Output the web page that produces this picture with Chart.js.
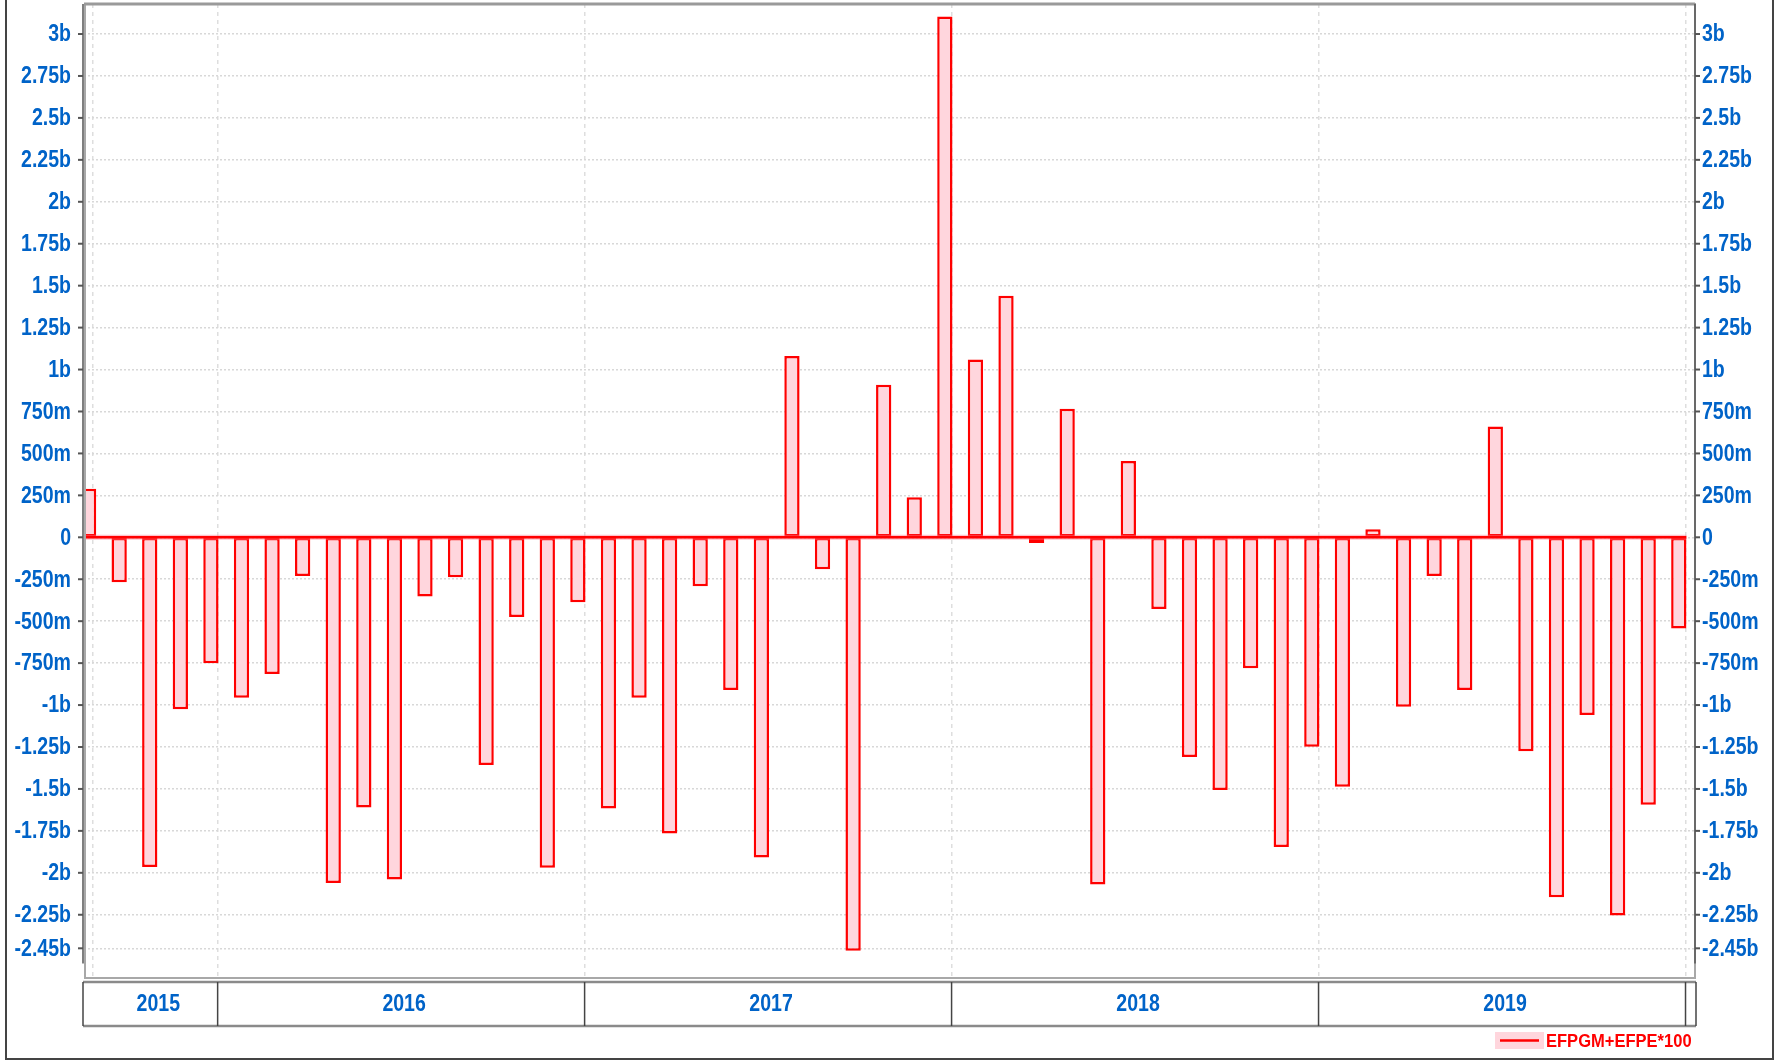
<!DOCTYPE html>
<html>
<head>
<meta charset="utf-8">
<script src="https://cdn.jsdelivr.net/npm/chart.js@4/dist/chart.umd.min.js"></script>
<style>
  html, body { margin: 0; padding: 0; background: #ffffff; }
  canvas { display: block; }
</style>
</head>
<body>
<canvas id="c" width="1781" height="1061" style="width:1781px;height:1061px"></canvas>
<script>
// ---- data (values in billions) ----
const categories = [
  '2015-08','2015-09','2015-10','2015-11','2015-12',
  '2016-01','2016-02','2016-03','2016-04','2016-05','2016-06','2016-07','2016-08','2016-09','2016-10','2016-11','2016-12',
  '2017-01','2017-02','2017-03','2017-04','2017-05','2017-06','2017-07','2017-08','2017-09','2017-10','2017-11','2017-12',
  '2018-01','2018-02','2018-03','2018-04','2018-05','2018-06','2018-07','2018-08','2018-09','2018-10','2018-11','2018-12',
  '2019-01','2019-02','2019-03','2019-04','2019-05','2019-06','2019-07','2019-08','2019-09','2019-10','2019-11','2019-12'
];
const seriesValues = [
  0.29, -0.268, -1.965, -1.025, -0.751,
  -0.956, -0.815, -0.23, -2.06, -1.61, -2.04, -0.353, -0.238, -1.358, -0.475, -1.97, -0.387,
  -1.616, -0.957, -1.765, -0.292, -0.91, -1.908, 1.08, -0.19, -2.465, 0.91, 0.238, 3.105,
  1.06, 1.44, -0.034, 0.767, -2.07, 0.455, -0.428, -1.31, -1.507, -0.78, -1.846, -1.249,
  -1.487, 0.048, -1.01, -0.231, -0.91, 0.66, -1.276, -2.145, -1.059, -2.254, -1.595, -0.543
];
const seriesLabel = 'EFPGM+EFPE*100';
const years = ['2015', '2016', '2017', '2018', '2019'];
const tickValues = [3, 2.75, 2.5, 2.25, 2, 1.75, 1.5, 1.25, 1, 0.75, 0.5, 0.25, 0,
  -0.25, -0.5, -0.75, -1, -1.25, -1.5, -1.75, -2, -2.25, -2.45];
const tickLabels = ['3b', '2.75b', '2.5b', '2.25b', '2b', '1.75b', '1.5b', '1.25b', '1b', '750m', '500m', '250m', '0',
  '-250m', '-500m', '-750m', '-1b', '-1.25b', '-1.5b', '-1.75b', '-2b', '-2.25b', '-2.45b'];

// ---- styling / layout constants ----
const BLUE = '#0063c8';
const RED = '#ff0000';
const PINK = '#ffd6dd';
const FONT = "'Liberation Sans', Arial, sans-serif";
const SQUEEZE = 0.85;          // horizontal condensing of the label text
const Y_MIN = -2.627, Y_MAX = 3.179;
const X_MIN = -0.15, X_MAX = 52.53;
const YEAR_SHIFT = 0.78;       // year boundary sits this far before the January bar
const FIRST_GRID = 0.14;       // extra vertical grid line near the start

// year boundaries (in x units) derived from category positions
const yearBounds = years.map(y => {
  const idx = categories.indexOf(y + '-01');
  return idx >= 0 ? idx - YEAR_SHIFT : null;
});
const endBound = categories.length - YEAR_SHIFT;
const xGridValues = [FIRST_GRID].concat(yearBounds.filter(v => v !== null), [endBound]);

const barData = seriesValues.map((v, i) => ({ x: i, y: v }));

function squeezedText(ctx, text, x, y, align, font, color, sx) {
  ctx.save();
  ctx.font = font;
  ctx.fillStyle = color;
  ctx.textBaseline = 'middle';
  ctx.textAlign = align;
  ctx.translate(x, y);
  ctx.scale(sx, 1);
  ctx.fillText(text, 0, 0);
  ctx.restore();
}

const decorPlugin = {
  id: 'decor',
  beforeDraw(chart) {
    const ctx = chart.ctx;
    ctx.save();
    ctx.fillStyle = '#ffffff';
    ctx.fillRect(0, 0, chart.width, chart.height);
    ctx.restore();
  },
  afterDatasetsDraw(chart) {
    const ctx = chart.ctx;
    const a = chart.chartArea;
    const xs = chart.scales.x, ys = chart.scales.y;
    const y0 = ys.getPixelForValue(0);
    const lastRight = xs.getPixelForValue(categories.length - 1) + 7.6;
    ctx.save();
    ctx.beginPath();
    ctx.rect(a.left, a.top, a.right - a.left, a.bottom - a.top);
    ctx.clip();
    ctx.strokeStyle = 'rgba(255,120,140,0.45)';
    ctx.lineWidth = 5;
    ctx.beginPath(); ctx.moveTo(a.left, y0); ctx.lineTo(lastRight, y0); ctx.stroke();
    ctx.strokeStyle = RED;
    ctx.lineWidth = 2.4;
    ctx.beginPath(); ctx.moveTo(a.left, y0); ctx.lineTo(lastRight, y0); ctx.stroke();
    ctx.restore();
  },
  afterDraw(chart) {
    const ctx = chart.ctx;
    const a = chart.chartArea;
    const xs = chart.scales.x, ys = chart.scales.y;
    ctx.save();
    // plot frame
    ctx.strokeStyle = '#a8a8a8';
    ctx.lineWidth = 2;
    ctx.strokeRect(a.left + 1, a.top, a.right - a.left - 1, a.bottom - a.top);
    ctx.strokeStyle = '#9a9a9a';
    ctx.lineWidth = 3;
    ctx.beginPath(); ctx.moveTo(a.left, a.top); ctx.lineTo(a.right, a.top); ctx.stroke();
    // axis lines
    const axisBottom = ys.getPixelForValue(-2.54);
    ctx.strokeStyle = '#555555';
    ctx.lineWidth = 1.5;
    ctx.beginPath(); ctx.moveTo(a.left - 1, a.top); ctx.lineTo(a.left - 1, axisBottom); ctx.stroke();
    ctx.beginPath(); ctx.moveTo(a.right, a.top); ctx.lineTo(a.right, axisBottom); ctx.stroke();
    // tick marks and tick labels
    const tickFont = 'bold 23px ' + FONT;
    tickValues.forEach((v, k) => {
      const py = ys.getPixelForValue(v);
      ctx.strokeStyle = '#555555';
      ctx.lineWidth = 2;
      ctx.beginPath(); ctx.moveTo(a.left - 6, py); ctx.lineTo(a.left - 1, py); ctx.stroke();
      ctx.beginPath(); ctx.moveTo(a.right, py); ctx.lineTo(a.right + 5, py); ctx.stroke();
      squeezedText(ctx, tickLabels[k], a.left - 13, py + 1, 'right', tickFont, BLUE, SQUEEZE);
      squeezedText(ctx, tickLabels[k], a.right + 7, py + 1, 'left', tickFont, BLUE, SQUEEZE);
    });
    // year band
    const bandTop = a.bottom + 4, bandBottom = a.bottom + 48;
    const bandLeft = a.left - 1, bandRight = a.right + 1;
    ctx.strokeStyle = '#8a8a8a';
    ctx.lineWidth = 2.5;
    ctx.beginPath(); ctx.moveTo(bandLeft, bandTop); ctx.lineTo(bandRight, bandTop); ctx.stroke();
    ctx.beginPath(); ctx.moveTo(bandLeft, bandBottom); ctx.lineTo(bandRight, bandBottom); ctx.stroke();
    ctx.strokeStyle = '#444444';
    ctx.lineWidth = 1.5;
    const seps = [bandLeft].concat(yearBounds.filter(v => v !== null).map(v => xs.getPixelForValue(v)),
      [xs.getPixelForValue(endBound), bandRight]);
    seps.forEach(px => {
      ctx.beginPath(); ctx.moveTo(px, bandTop); ctx.lineTo(px, bandBottom); ctx.stroke();
    });
    // year labels
    years.forEach((y, i) => {
      const start = yearBounds[i] !== null ? yearBounds[i] : FIRST_GRID;
      const end = i + 1 < years.length ? yearBounds[i + 1] : endBound;
      const cx = (xs.getPixelForValue(start) + xs.getPixelForValue(end)) / 2 + 3;
      squeezedText(ctx, y, cx, (bandTop + bandBottom) / 2 + 1, 'center', 'bold 23px ' + FONT, BLUE, SQUEEZE);
    });
    // legend
    const lx = 1495, ly = 1032;
    ctx.fillStyle = PINK;
    ctx.fillRect(lx, ly, 49, 17);
    ctx.strokeStyle = RED;
    ctx.lineWidth = 2.5;
    ctx.beginPath(); ctx.moveTo(lx + 5, ly + 8.5); ctx.lineTo(lx + 44, ly + 8.5); ctx.stroke();
    squeezedText(ctx, seriesLabel, lx + 51, ly + 9.5, 'left', 'bold 19px ' + FONT, RED, 0.87);
    // outer frame
    ctx.strokeStyle = '#444444';
    ctx.lineWidth = 2;
    ctx.beginPath();
    ctx.moveTo(6, 0); ctx.lineTo(6, 1059); ctx.lineTo(1773, 1059); ctx.lineTo(1773, 0);
    ctx.stroke();
    ctx.restore();
  }
};

new Chart(document.getElementById('c'), {
  type: 'bar',
  data: {
    datasets: [{
      label: seriesLabel,
      data: barData,
      backgroundColor: PINK,
      borderColor: RED,
      borderWidth: 2.5,
      borderSkipped: false,
      barPercentage: 0.5,
      categoryPercentage: 1,
      clip: 0,
      xAxisID: 'x',
      yAxisID: 'y'
    }]
  },
  options: {
    responsive: false,
    animation: false,
    devicePixelRatio: 1,
    layout: { padding: { top: 4, bottom: 83, left: 0, right: 0 } },
    plugins: { legend: { display: false }, tooltip: { enabled: false } },
    scales: {
      x: {
        type: 'linear',
        min: X_MIN, max: X_MAX,
        offset: false,
        afterBuildTicks(scale) { scale.ticks = xGridValues.map(v => ({ value: v })); },
        afterFit(scale) { scale.height = 0; scale.paddingLeft = 0; scale.paddingRight = 0; },
        ticks: { display: false },
        border: { display: false, dash: [4, 4] },
        grid: { color: '#dedede', lineWidth: 1.5, offset: false, drawTicks: false }
      },
      y: {
        type: 'linear',
        position: 'left',
        min: Y_MIN, max: Y_MAX,
        afterBuildTicks(scale) { scale.ticks = tickValues.map(v => ({ value: v })); },
        afterFit(scale) { scale.width = 84; scale.paddingTop = 0; scale.paddingBottom = 0; },
        ticks: { display: false },
        border: { display: false, dash: [2, 2] },
        grid: { color: '#d8d8d8', lineWidth: 1.5, drawTicks: false }
      },
      y2: {
        type: 'linear',
        position: 'right',
        min: Y_MIN, max: Y_MAX,
        afterBuildTicks(scale) { scale.ticks = tickValues.map(v => ({ value: v })); },
        afterFit(scale) { scale.width = 86; scale.paddingTop = 0; scale.paddingBottom = 0; },
        ticks: { display: false },
        border: { display: false },
        grid: { display: false, drawTicks: false }
      }
    }
  },
  plugins: [decorPlugin]
});
</script>
</body>
</html>
